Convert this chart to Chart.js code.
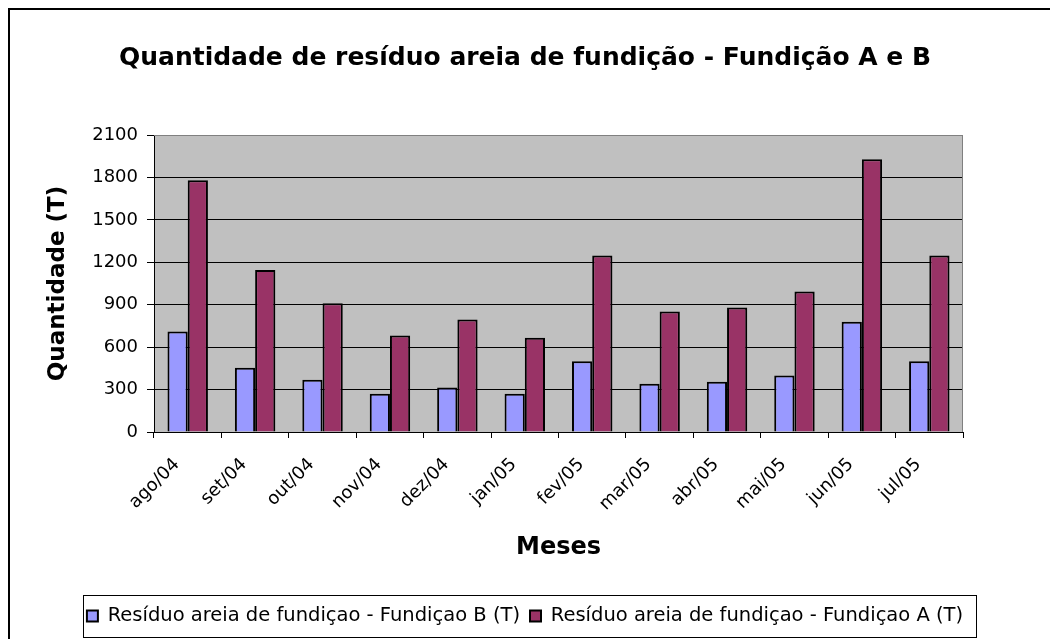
<!DOCTYPE html>
<html>
<head>
<meta charset="utf-8">
<script src="https://cdn.jsdelivr.net/npm/chart.js@4/dist/chart.umd.min.js"></script>
<style>
  html, body { margin: 0; padding: 0; background: #fff; }
  #wrap { width: 1050px; height: 639px; position: relative; }
</style>
</head>
<body>
<div id="wrap"><canvas id="chart"></canvas></div>
<script>
// meses
var meses = ['ago/04', 'set/04', 'out/04', 'nov/04', 'dez/04', 'jan/05',
             'fev/05', 'mar/05', 'abr/05', 'mai/05', 'jun/05', 'jul/05'];
// quantidade em toneladas
var fundicaoB = [710, 455, 370, 270, 315, 270, 500, 342, 356, 400, 780, 500];
var fundicaoA = [1780, 1145, 910, 682, 795, 666, 1248, 852, 880, 994, 1928, 1248];
var yTicks = [0, 300, 600, 900, 1200, 1500, 1800, 2100];

var FONT = "'DejaVu Sans', 'Liberation Sans', Arial, sans-serif";

// fundo cinza, borda externa e caixa da legenda
var excelLook = {
  id: 'excelLook',
  beforeDraw: function(chart) {
    var ctx = chart.ctx, a = chart.chartArea;
    ctx.save();
    ctx.fillStyle = '#ffffff';
    ctx.fillRect(0, 0, chart.width, chart.height);
    ctx.fillStyle = '#C0C0C0';
    ctx.fillRect(a.left, a.top, a.right - a.left, a.bottom - a.top);
    ctx.restore();
  },
  afterDraw: function(chart) {
    var ctx = chart.ctx, a = chart.chartArea;
    ctx.save();
    // borda de cima e direita da area do grafico
    ctx.strokeStyle = '#808080';
    ctx.lineWidth = 1;
    ctx.beginPath();
    ctx.moveTo(a.left, a.top + 0.5);
    ctx.lineTo(a.right - 0.5, a.top + 0.5);
    ctx.lineTo(a.right - 0.5, a.bottom);
    ctx.stroke();
    // borda externa
    ctx.strokeStyle = '#000000';
    ctx.lineWidth = 2;
    ctx.strokeRect(9, 9, 1100, 700);
    // caixa da legenda
    var boxes = chart.legend.legendHitBoxes;
    if (boxes && boxes.length) {
      var l = boxes[0].left, r = boxes[0].left + boxes[0].width;
      for (var i = 1; i < boxes.length; i++) {
        l = Math.min(l, boxes[i].left);
        r = Math.max(r, boxes[i].left + boxes[i].width);
      }
      ctx.lineWidth = 1;
      ctx.strokeRect(Math.round(l - 4) + 0.5, 595.5, Math.round(r - l + 17), 42);
    }
    ctx.restore();
  }
};

new Chart(document.getElementById('chart'), {
  type: 'bar',
  data: {
    labels: meses,
    datasets: [
      { label: 'Resíduo areia de fundiçao - Fundiçao B (T)', data: fundicaoB,
        backgroundColor: '#9999FF', borderColor: '#000000', borderWidth: 2 },
      { label: 'Resíduo areia de fundiçao - Fundiçao A (T)', data: fundicaoA,
        backgroundColor: '#993366', borderColor: '#000000', borderWidth: 2 }
    ]
  },
  options: {
    responsive: true,
    maintainAspectRatio: false,
    animation: false,
    events: [],
    layout: { padding: { left: 0, right: 0, top: 0, bottom: 3.25 } },
    datasets: { bar: { categoryPercentage: 0.6, barPercentage: 1.0 } },
    plugins: {
      title: {
        display: true,
        text: 'Quantidade de resíduo areia de fundição - Fundição A e B',
        color: '#000',
        font: { family: FONT, size: 25, weight: 'bold' },
        padding: { top: 43, bottom: 62 }
      },
      legend: {
        position: 'bottom',
        labels: {
          color: '#000',
          font: { family: FONT, size: 19.5 },
          boxWidth: 11, boxHeight: 11, padding: 10
        }
      },
      tooltip: { enabled: false }
    },
    scales: {
      x: {
        grid: { offset: true, drawOnChartArea: false, drawTicks: true, tickLength: 6,
                color: '#000' },
        border: { color: '#000', width: 1 },
        ticks: { color: '#000', font: { family: FONT, size: 18 },
                 minRotation: 45, maxRotation: 45, padding: 16, labelOffset: -11 },
        title: { display: true, text: 'Meses', color: '#000',
                 font: { family: FONT, size: 24, weight: 'bold' },
                 padding: { top: 0, bottom: 33.85 } },
        afterFit: function(scale) { scale.height = 164.25; }
      },
      y: {
        min: 0, max: 2100,
        afterBuildTicks: function(scale) {
          scale.ticks = yTicks.map(function(v) { return { value: v }; });
        },
        grid: {
          color: function(c) { return c.tick && c.tick.value === 2100 ? '#808080' : '#000'; },
          tickColor: '#000', tickLength: 7, lineWidth: 1
        },
        border: { color: '#000', width: 1 },
        ticks: { color: '#000', font: { family: FONT, size: 18 }, padding: 9,
                 callback: function(v) { return String(v); } },
        title: { display: true, text: 'Quantidade (T)', color: '#000',
                 font: { family: FONT, size: 23, weight: 'bold' },
                 padding: { top: 44.2, bottom: 0 } },
        afterFit: function(scale) { scale.width = 154; }
      },
      // espaco vazio a direita, para o titulo ficar centrado na pagina
      y2: {
        position: 'right',
        grid: { display: false },
        border: { display: false },
        ticks: { display: false },
        afterFit: function(scale) { scale.width = 87; }
      }
    }
  },
  plugins: [excelLook]
});
</script>
</body>
</html>
